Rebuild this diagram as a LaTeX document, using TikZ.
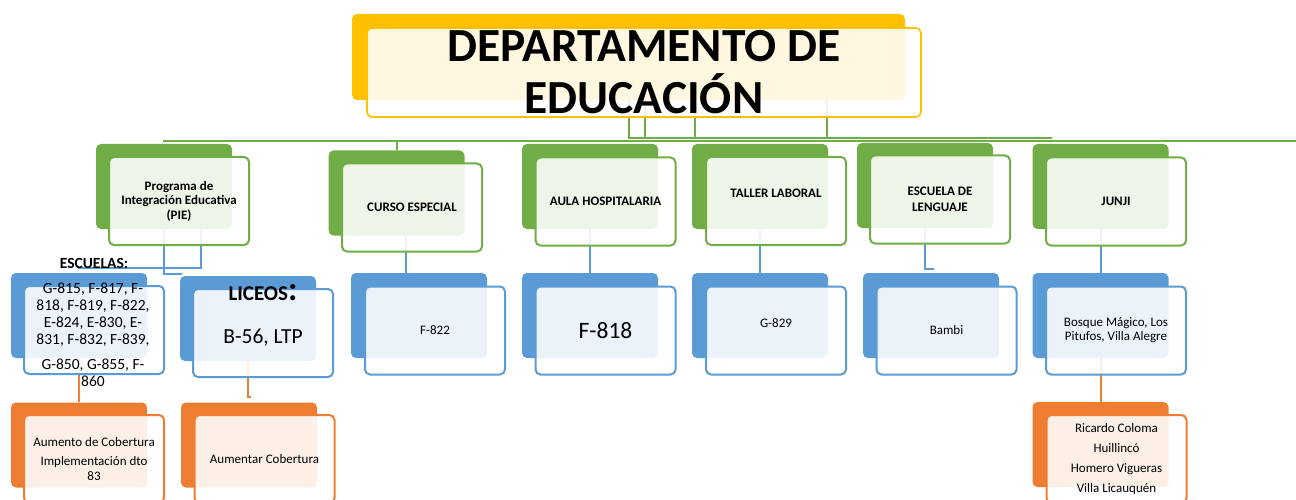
\documentclass[tikz,border=0pt]{standalone}
\usepackage{fontspec}
\setmainfont{Carlito}
\usepackage{tikz}

\definecolor{orgGreen}{HTML}{70AD47}
\definecolor{orgBlue}{HTML}{5B9BD5}
\definecolor{orgOrange}{HTML}{ED7D31}
\definecolor{orgGold}{HTML}{FFC000}

\tikzset{
  backbox/.style={rounded corners=5pt, minimum width=136pt, minimum height=85pt, inner sep=0pt},
  frontbox/.style={draw, line width=2pt, rounded corners=5pt, minimum width=140pt, minimum height=88pt,
    inner sep=0pt, fill=white, fill opacity=0.88, text opacity=1, align=center},
  gline/.style={orgGreen, line width=2pt},
  bline/.style={orgBlue, line width=2pt},
  oline/.style={orgOrange, line width=2pt},
  lbl/.style={font=\fontsize{13}{14.5}\selectfont\bfseries},
  txt/.style={font=\fontsize{13}{14}\selectfont},
}

\begin{document}
\begin{tikzpicture}[x=1pt,y=-1pt]
\clip (0,0) rectangle (1296,500);
\fill[white] (0,0) rectangle (1296,500);

% back plates
\node[backbox, fill=orgGold, minimum width=553pt, minimum height=86pt] (titleB) at (628.5,57) {};

\node[backbox, fill=orgGreen] (pieB) at (164,186.5) {};
\node[backbox, fill=orgGreen] (curB) at (396.5,193) {};
\node[backbox, fill=orgGreen] (aulaB) at (590,186.5) {};
\node[backbox, fill=orgGreen] (talB) at (760,186.5) {};
\node[backbox, fill=orgGreen] (lenB) at (925,185.5) {};
\node[backbox, fill=orgGreen] (junB) at (1100.5,186.5) {};

\node[backbox, fill=orgBlue] (escB) at (79,315.5) {};
\node[backbox, fill=orgBlue] (licB) at (248,318.5) {};
\node[backbox, fill=orgBlue] (fxxiiB) at (419,315.5) {};
\node[backbox, fill=orgBlue] (fxviiiB) at (590,315.5) {};
\node[backbox, fill=orgBlue] (gxxixB) at (760,315.5) {};
\node[backbox, fill=orgBlue] (bamB) at (931,315.5) {};
\node[backbox, fill=orgBlue] (bosB) at (1100.5,315.5) {};

\node[backbox, fill=orgOrange] (aumB) at (79,445) {};
\node[backbox, fill=orgOrange] (autB) at (249,445) {};
\node[backbox, fill=orgOrange] (ricB) at (1100.5,444.5) {};

% connectors
\coordinate (railL) at (163,141);
\coordinate (railR) at (1296,141);
\coordinate (railE) at (1052,138);
\draw[gline] (railL) -- (railR);
\draw[gline] (titleB.south) |- (railE);
\foreach \dx in {16.5,66.5,198.5}
  \draw[gline] ([xshift=\dx pt]titleB.south) -- ([xshift=\dx pt]titleB.south |- railE);
\draw[gline] (curB.north) -- (curB.north |- railL);

\coordinate (licIn) at (182,274);
\coordinate (escIn) at (78,268);
\coordinate (bamIn) at (934,269);
\coordinate (autIn) at (251,397);
\draw[bline] (pieB.south) |- (licIn);
\draw[bline] ([xshift=37pt]pieB.south) |- (escIn);
\draw[bline] ([xshift=9.5pt]curB.south) -- ([xshift=9.5pt]curB.south |- fxxiiB.north);
\draw[bline] (aulaB.south) -- (fxviiiB.north);
\draw[bline] (talB.south) -- (gxxixB.north);
\draw[bline] (lenB.south) |- (bamIn);
\draw[bline] (junB.south) -- (bosB.north);

\draw[oline] (escB.south) -- (aumB.north);
\draw[oline] (licB.south) |- (autIn);
\draw[oline] (bosB.south) -- (ricB.north);

% front plates
\node[frontbox, draw=orgGold, line width=1.6pt, minimum width=554pt, minimum height=89pt,
  font=\fontsize{47.5}{52}\selectfont\bfseries] (title) at (644,72.5) {DEPARTAMENTO DE\\EDUCACIÓN};

\node[frontbox, draw=orgGreen, lbl] (pie) at (179,201) {Programa de\\Integración Educativa\\(PIE)};
\node[frontbox, draw=orgGreen, lbl] (cur) at (412,207.5) {CURSO ESPECIAL};
\node[frontbox, draw=orgGreen, lbl] (aula) at (605.5,201.5) {AULA HOSPITALARIA};
\node[frontbox, draw=orgGreen] (tal) at (776,201) {};
\node[lbl] (talT) at ([yshift=8pt]tal.center) {TALLER LABORAL};
\node[frontbox, draw=orgGreen, lbl, font=\fontsize{13}{16}\selectfont\bfseries] (len) at (940,199.5) {ESCUELA DE\\LENGUAJE};
\node[frontbox, draw=orgGreen, lbl] (jun) at (1116,201.5) {JUNJI};

\node[frontbox, draw=orgBlue] (esc) at (94,330) {};
\node[font=\fontsize{15.5}{17}\selectfont, align=center] (escT) at (93,335)
  {G-815, F-817, F-\\818, F-819, F-822,\\E-824, E-830, E-\\831, F-832, F-839,\\[8pt]G-850, G-855, F-\\860};
\node[font=\fontsize{15.5}{17}\selectfont\bfseries] (escL) at (94,263) {ESCUELAS:};
\node[frontbox, draw=orgBlue] (lic) at (263,333) {};
\node[font=\fontsize{21}{24}\selectfont\bfseries] (licL) at (263,293) {LICEOS{\fontsize{34}{34}\selectfont:}};
\node[font=\fontsize{21.5}{24}\selectfont] (licT) at (263,338) {B-56, LTP};
\node[frontbox, draw=orgBlue, txt] (fxxii) at (435,330.5) {F-822};
\node[frontbox, draw=orgBlue, font=\fontsize{23.5}{26}\selectfont] (fxviii) at (605.5,330.5) {F-818};
\node[frontbox, draw=orgBlue] (gxxix) at (776,330.5) {};
\node[txt] (gxxixT) at ([yshift=7.5pt]gxxix.center) {G-829};
\node[frontbox, draw=orgBlue, txt] (bam) at (946.5,330.5) {Bambi};
\node[frontbox, draw=orgBlue, txt] (bos) at (1116,330.5) {Bosque Mágico, Los\\Pitufos, Villa Alegre};

\node[frontbox, draw=orgOrange, font=\fontsize{13}{15}\selectfont] (aum) at (94,459)
  {Aumento de Cobertura\\[4pt]Implementación dto\\83};
\node[frontbox, draw=orgOrange, txt] (aut) at (264.5,459) {Aumentar Cobertura};
\node[frontbox, draw=orgOrange, font=\fontsize{13}{20}\selectfont] (ric) at (1116.5,459)
  {Ricardo Coloma\\Huillincó\\Homero Vigueras\\Villa Licauquén};
\end{tikzpicture}
\end{document}
